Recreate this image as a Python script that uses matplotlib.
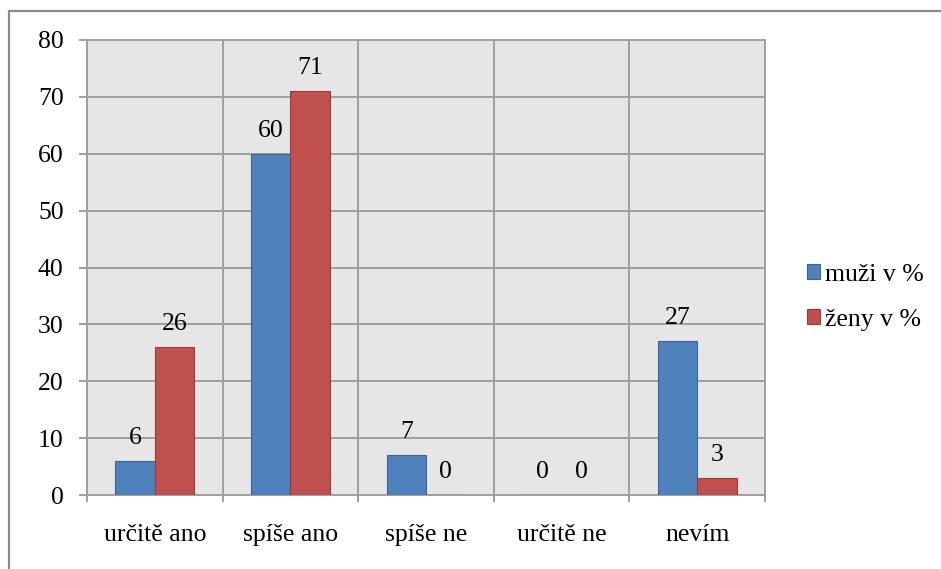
import matplotlib
matplotlib.use("Agg")
import matplotlib.pyplot as plt
from matplotlib.patches import Rectangle
import numpy as np

categories = ["určitě ano", "spíše ano", "spíše ne", "určitě ne", "nevím"]
muzi = [6, 60, 7, 0, 27]
zeny = [26, 71, 0, 0, 3]
series_names = ["muži v %", "ženy v %"]
yticks = [0, 10, 20, 30, 40, 50, 60, 70, 80]

plt.rcParams['font.family'] = ['Liberation Serif', 'DejaVu Serif']
FS = 18.5

W, H = 941, 569
fig = plt.figure(figsize=(W / 100, H / 100), dpi=100)
fig.patch.set_facecolor("white")

# outer chart border
fig.patches.append(Rectangle((9 / W, -0.1), 1.2, 1 - 11 / H + 0.1,
                             transform=fig.transFigure, fill=False,
                             edgecolor="#8c8c8c", linewidth=1.6))

left, right, top, bottom = 87, 765, 40, 495
ax = fig.add_axes([left / W, 1 - bottom / H, (right - left) / W, (bottom - top) / H])
ax.set_facecolor("#e6e6e6")

x = np.arange(len(categories))
bw = 0.29
grid_c = "#a0a0a0"
b1 = ax.bar(x - bw / 2, muzi, bw, color="#4f81bd", edgecolor="#3a6595", linewidth=0.8,
            label=series_names[0], zorder=3)
b2 = ax.bar(x + bw / 2, zeny, bw, color="#c0504d", edgecolor="#963c3a", linewidth=0.8,
            label=series_names[1], zorder=3)

for bars, vals in ((b1, muzi), (b2, zeny)):
    for rect, v in zip(bars, vals):
        ax.annotate(str(v), (rect.get_x() + rect.get_width() / 2, v),
                    xytext=(0, 23), textcoords="offset pixels",
                    ha="center", va="center", fontsize=FS, color="black")

ax.set_xlim(-0.5, len(categories) - 0.5)
ax.set_ylim(0, 80)
ax.set_yticks(yticks)
ax.set_yticklabels([str(t) for t in yticks], fontsize=FS)
for t in yticks:
    ax.axhline(t, color=grid_c, linewidth=1.4, zorder=1)
for b in np.arange(-0.5, len(categories), 1.0):
    ax.axvline(b, color=grid_c, linewidth=1.4, zorder=1)

ax.set_xticks(np.arange(-0.5, len(categories), 1.0), minor=False)
ax.set_xticklabels([])
ax.set_xticks(x, minor=True)
ax.set_xticklabels(categories, minor=True, fontsize=FS)
ax.tick_params(axis="x", which="major", length=5, color=grid_c, width=1.4)
ax.tick_params(axis="x", which="minor", length=0, pad=21)
ax.tick_params(axis="y", length=5.8, color=grid_c, width=1.4, pad=11)
for s in ax.spines.values():
    s.set_color(grid_c)
    s.set_linewidth(1.4)

leg = ax.legend(loc="center left", bbox_to_anchor=(1.062, 0.435), frameon=False,
                fontsize=FS, handlelength=0.5, handleheight=0.5, handletextpad=0.2,
                labelspacing=0.9, borderaxespad=0.0, borderpad=0.0)

fig.savefig("out.png", dpi=100)
